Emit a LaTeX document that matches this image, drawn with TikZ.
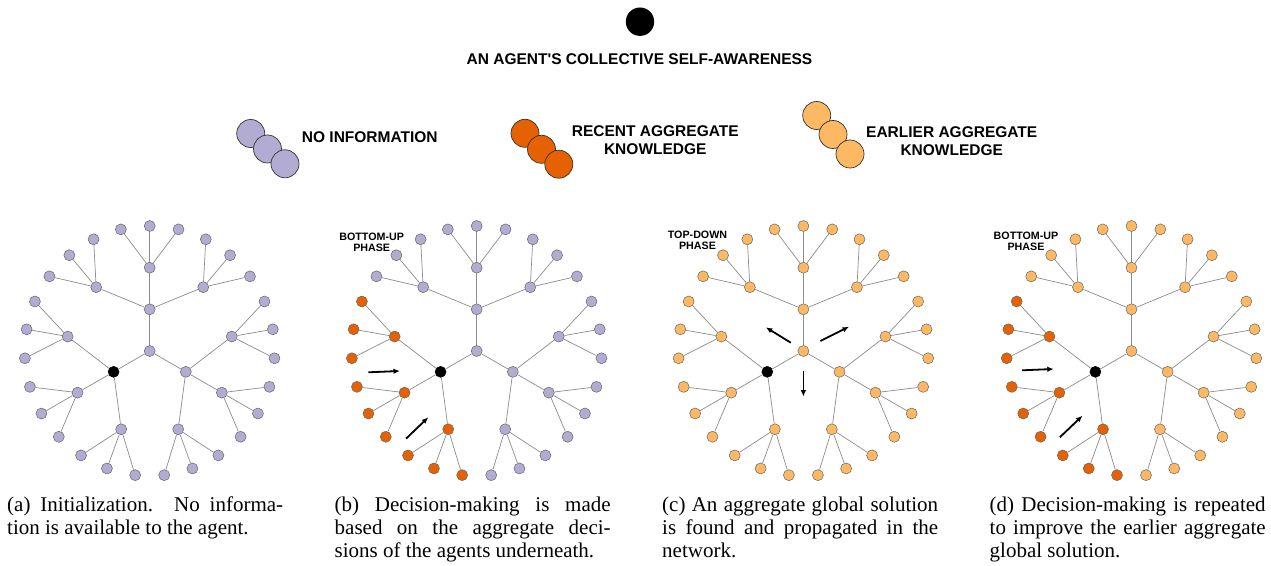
\documentclass[tikz,border=0pt]{standalone}
\usepackage{fontspec}
\setmainfont{Liberation Serif}
\newfontfamily\labelfont{Liberation Sans}
\usetikzlibrary{arrows.meta}

\definecolor{noinfo}{HTML}{B2ABD2}
\definecolor{recent}{HTML}{E66101}
\definecolor{earlier}{HTML}{FDB863}
\definecolor{linkgray}{HTML}{8C8C8C}
\definecolor{rimgray}{HTML}{666666}

\tikzset{
  agent/.style={circle, draw=rimgray, line width=0.5bp, minimum size=11bp, inner sep=0pt},
  selfagent/.style={agent, draw=black, fill=black},
  link/.style={draw=linkgray, line width=0.7bp},
  flow/.style={line width=1.8bp, -{Latex[length=6.5bp,width=5.5bp]}},
  keydisc/.style={circle, draw=black!80, line width=0.7bp, minimum size=28bp, inner sep=0pt},
  keytext/.style={font=\labelfont\bfseries\fontsize{15.5bp}{18.5bp}\selectfont, inner sep=0pt, align=center},
  phase/.style={font=\labelfont\bfseries\fontsize{10.7bp}{11bp}\selectfont, inner sep=0pt, align=center},
  caption/.style={inner sep=0pt, anchor=base west, font=\fontsize{21bp}{23bp}\selectfont},
}

% one caption line: stretched to the full column width, or left aligned
\newcommand{\capline}[2][s]{\makebox[276bp][#1]{#2}}

% radial tree: hub, three agents, nine sub-agents, twenty-seven leaves
% #1 name prefix, #2/#3 hub position, #4 colour of the network,
% #5 colour of the branch below the self-aware agent
\newcommand{\agenttree}[5]{%
  \begin{scope}[shift={(#2,#3)}]
    \node[agent, fill=#4] (#1h) at (0,0) {};
    \node[agent, fill=#4] (#1d1) at (-90:41.7) {};
    \node[selfagent] (#1d2) at (-210:41.7) {};
    \node[agent, fill=#4] (#1d3) at (-330:41.7) {};
    \foreach \i/\a/\col in {1/90/#4, 2/210/#5, 3/330/#4} {
      \draw[link] (#1h) -- (#1d\i);
      \foreach \j in {1,2,3} {
        \pgfmathsetmacro{\angM}{\a+(\j-2)*40}
        \node[agent, fill=\col] (#1d\i-\j) at (-\angM:83.3) {};
        \draw[link] (#1d\i) -- (#1d\i-\j);
        \foreach \k in {1,2,3} {
          \pgfmathsetmacro{\angL}{\angM+(\k-2)*13.333}
          \node[agent, fill=\col] (#1d\i-\j-\k) at (-\angL:125) {};
          \draw[link] (#1d\i-\j) -- (#1d\i-\j-\k);
        }
      }
    }
  \end{scope}
}

\begin{document}
\begin{tikzpicture}[x=1bp, y=-1bp]
  \useasboundingbox (0,0) rectangle (1271,566);
  \fill[white] (0,0) rectangle (1271,566);

  % ---- key ----
  \node[circle, fill=black, minimum size=28.4bp, inner sep=0pt] (selfkey) at (640,21.7) {};
  \node[keytext] (selflabel) at (639.5,59) {AN AGENT'S COLLECTIVE SELF-AWARENESS};

  \node[keydisc, fill=noinfo] (nokey1) at (250.7,133.5) {};
  \node[keydisc, fill=noinfo] (nokey2) at (267.5,149) {};
  \node[keydisc, fill=noinfo] (nokey3) at (285,163.8) {};
  \node[keytext, anchor=west] (nolabel) at (301.7,136.7) {NO INFORMATION};

  \node[keydisc, fill=recent] (reckey1) at (525,133.3) {};
  \node[keydisc, fill=recent] (reckey2) at (541.5,149.3) {};
  \node[keydisc, fill=recent] (reckey3) at (558.8,164.2) {};
  \node[keytext, anchor=west] (reclabel) at (571.7,140.2) {RECENT AGGREGATE\\KNOWLEDGE};

  \node[keydisc, fill=earlier] (earkey1) at (816.7,115.5) {};
  \node[keydisc, fill=earlier] (earkey2) at (833,134.5) {};
  \node[keydisc, fill=earlier] (earkey3) at (850,154) {};
  \node[keytext, anchor=west] (earlabel) at (866,141.3) {EARLIER AGGREGATE\\KNOWLEDGE};

  % ---- the four stages ----
  \agenttree{a}{149.7}{351}{noinfo}{noinfo}
  \agenttree{b}{476.7}{351}{noinfo}{recent}
  \agenttree{c}{803.4}{351}{earlier}{earlier}
  \agenttree{d}{1131.5}{351}{earlier}{recent}

  % (b) bottom-up phase
  \node[phase] (bphase) at (371.7,242.2) {BOTTOM-UP\\PHASE};
  \begin{scope}[shift={(476.7,351)}]
    \coordinate (bfrom1) at (-108.4,21.3);
    \coordinate (bto1) at (-76.7,20);
    \coordinate (bfrom2) at (-70.7,87.7);
    \coordinate (bto2) at (-48.4,66.3);
  \end{scope}
  \draw[flow] (bfrom1) -- (bto1);
  \draw[flow] (bfrom2) -- (bto2);

  % (c) top-down phase
  \node[phase] (cphase) at (697.5,240.5) {TOP-DOWN\\PHASE};
  \begin{scope}[shift={(803.4,351)}]
    \coordinate (cfrom1) at (-12.6,-8.3);
    \coordinate (cto1) at (-37.6,-23.7);
    \coordinate (cfrom2) at (17,-10);
    \coordinate (cto2) at (45.7,-24.3);
    \coordinate (cfrom3) at (0,20.3);
    \coordinate (cto3) at (0,45.7);
  \end{scope}
  \draw[flow] (cfrom1) -- (cto1);
  \draw[flow] (cfrom2) -- (cto2);
  \draw[flow] (cfrom3) -- (cto3);

  % (d) bottom-up phase again
  \node[phase] (dphase) at (1026,241.5) {BOTTOM-UP\\PHASE};
  \begin{scope}[shift={(1131.5,351)}]
    \coordinate (dfrom1) at (-109.4,19.3);
    \coordinate (dto1) at (-77.7,18);
    \coordinate (dfrom2) at (-71.7,86.3);
    \coordinate (dto2) at (-49,64.7);
  \end{scope}
  \draw[flow] (dfrom1) -- (dto1);
  \draw[flow] (dfrom2) -- (dto2);

  % ---- captions ----
  \node[caption] (capa) at (7,511.5) {\parbox[t]{276bp}{%
    \capline{(a) Initialization. No informa-}\\
    \capline[l]{tion is available to the agent.}}};
  \node[caption] (capb) at (334.5,511.5) {\parbox[t]{276bp}{%
    \capline{(b) Decision-making is made}\\
    \capline{based on the aggregate deci-}\\
    \capline[l]{sions of the agents underneath.}}};
  \node[caption] (capc) at (662,511.5) {\parbox[t]{276bp}{%
    \capline{(c) An aggregate global solution}\\
    \capline{is found and propagated in the}\\
    \capline[l]{network.}}};
  \node[caption] (capd) at (989.5,511.5) {\parbox[t]{276bp}{%
    \capline{(d) Decision-making is repeated}\\
    \capline{to improve the earlier aggregate}\\
    \capline[l]{global solution.}}};
\end{tikzpicture}
\end{document}
